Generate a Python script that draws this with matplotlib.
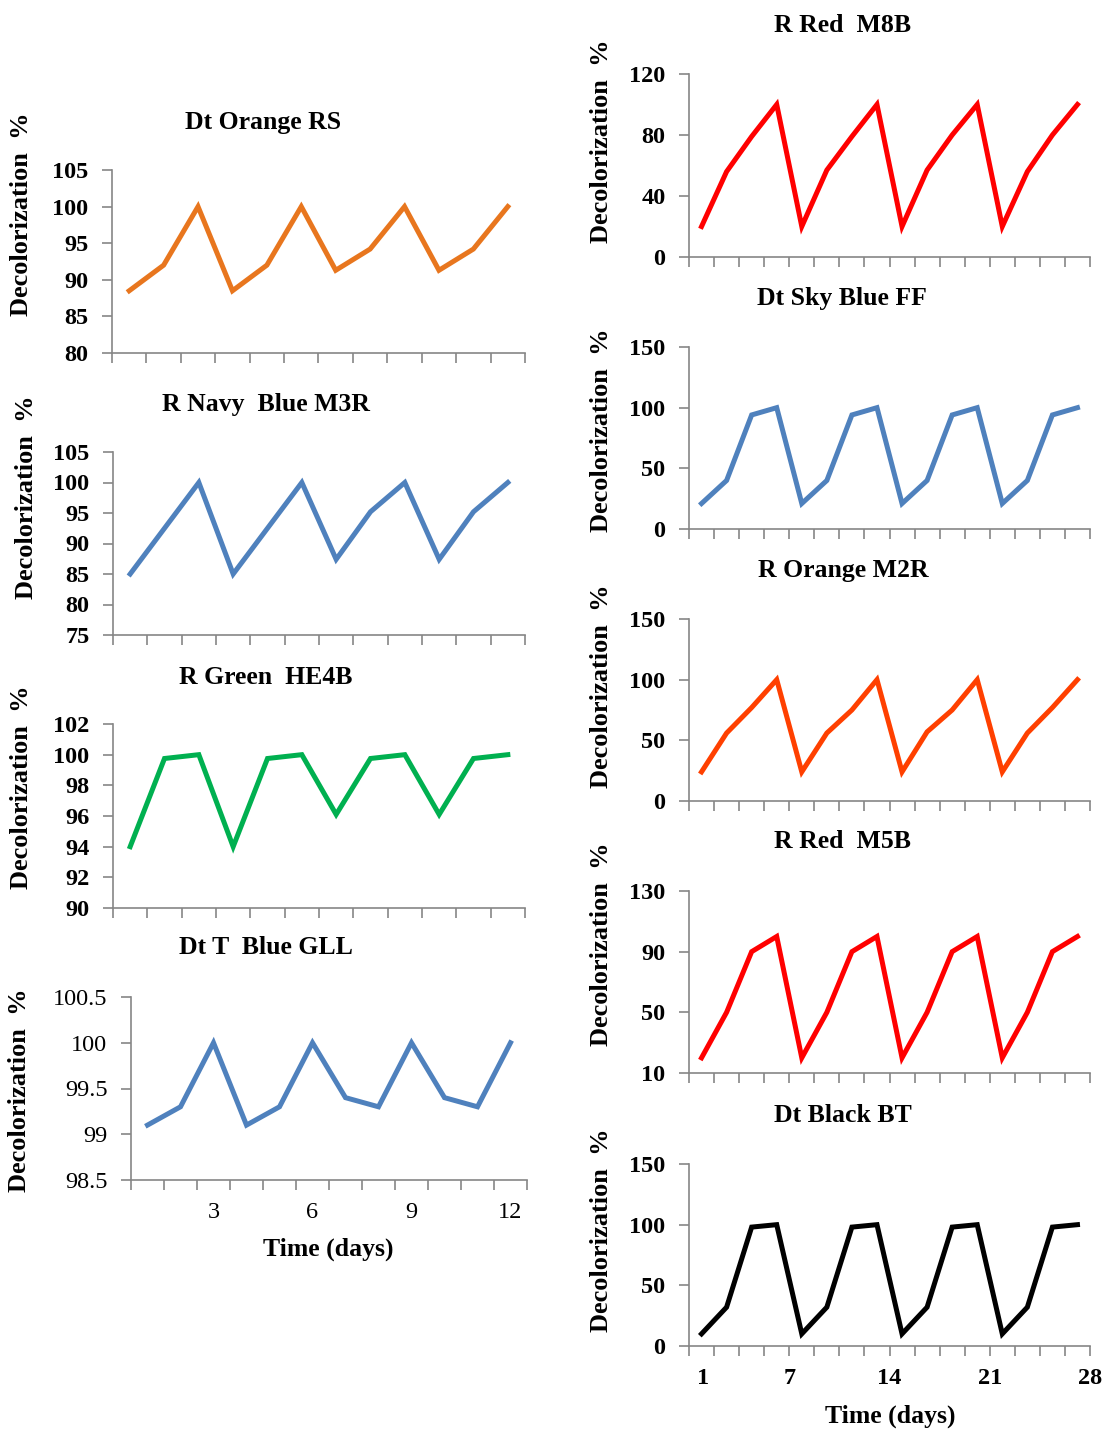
import matplotlib
matplotlib.use("Agg")
import matplotlib.pyplot as plt
import numpy as np

plt.rcParams['font.family'] = ['Liberation Serif', 'DejaVu Serif']

# ---- data: decolorization (%) over repeated batch cycles ----
orange_rs = [88.5, 92.0, 100, 88.5, 92.0, 100, 91.3, 94.2, 100, 91.3, 94.2, 100]
navy_m3r = [85.0, 92.5, 100, 85.0, 92.5, 100, 87.4, 95.2, 100, 87.4, 95.2, 100]
green_he4b = [94.0, 99.75, 100, 94.0, 99.75, 100, 96.1, 99.75, 100, 96.1, 99.75, 100]
tblue_gll = [99.1, 99.3, 100, 99.1, 99.3, 100, 99.4, 99.3, 100, 99.4, 99.3, 100]

red_m8b = [20, 56, 79, 100, 20, 57, 79, 100, 20, 57, 80, 100, 20, 56, 80, 100]
skyblue_ff = [21, 40, 94, 100, 21, 40, 94, 100, 21, 40, 94, 100, 21, 40, 94, 100]
orange_m2r = [24, 56, 77, 100, 24, 56, 75, 100, 24, 57, 75, 100, 24, 56, 77, 100]
red_m5b = [20, 50, 90, 100, 20, 50, 90, 100, 20, 50, 90, 100, 20, 50, 90, 100]
black_bt = [10, 32, 98, 100, 10, 32, 98, 100, 10, 32, 98, 100, 10, 32, 98, 100]

left_titles = ["Dt Orange RS", "R Navy  Blue M3R", "R Green  HE4B", "Dt T  Blue GLL"]
right_titles = ["R Red  M8B", "Dt Sky Blue FF", "R Orange M2R", "R Red  M5B", "Dt Black BT"]

left_ticks = [[80, 85, 90, 95, 100, 105],
              [75, 80, 85, 90, 95, 100, 105],
              [90, 92, 94, 96, 98, 100, 102],
              [98.5, 99, 99.5, 100, 100.5]]
left_ticklabels = [None, None, None, ["98.5", "99", "99.5", "100", "100.5"]]
right_ticks = [[0, 40, 80, 120],
               [0, 50, 100, 150],
               [0, 50, 100, 150],
               [10, 50, 90, 130],
               [0, 50, 100, 150]]

left_day_labels = ["3", "6", "9", "12"]
left_day_points = [3, 6, 9, 12]
right_days = [1, 7, 14, 21, 28]

# ---- layout (pixels) ----
W, H = 1110, 1431
fig = plt.figure(figsize=(W / 100, H / 100), dpi=100)
fig.patch.set_facecolor("white")

GREY = "#868686"
TICK_SIZE = 17.5
TITLE_SIZE = 18.5
YLAB_SIZE = 19
LW = 3.6


def px_axes(x0, x1, ytop, ybot):
    return fig.add_axes([x0 / W, 1 - ybot / H, (x1 - x0) / W, (ybot - ytop) / H])


def style(ax, ncat, ticks, ticklabels, bold_ticks=True):
    for s in ("top", "right"):
        ax.spines[s].set_visible(False)
    for s in ("left", "bottom"):
        ax.spines[s].set_color(GREY)
        ax.spines[s].set_linewidth(1.2)
    ax.set_xlim(0.5, ncat + 0.5)
    ax.set_xticks(np.arange(0.5, ncat + 1.0, 1.0))
    ax.set_xticklabels([])
    ax.xaxis.remove_overlapping_locs = False
    ax.set_ylim(ticks[0], ticks[-1])
    ax.set_yticks(ticks)
    if ticklabels is not None:
        ax.set_yticklabels(ticklabels)
    else:
        ax.set_yticklabels([f"{t:g}" for t in ticks])
    ax.tick_params(axis="both", direction="out", length=7, width=1.2, color=GREY)
    ax.tick_params(axis="y", pad=10, labelsize=TICK_SIZE)
    for lab in ax.get_yticklabels():
        lab.set_fontweight("bold" if bold_ticks else "normal")
    ax.patch.set_alpha(0)


left_series = [orange_rs, navy_m3r, green_he4b, tblue_gll]
left_colors = ["#E8761E", "#4F81BD", "#00B050", "#4F81BD"]
left_boxes = [(112, 525, 170, 353), (113, 525, 452, 635), (113, 525, 724, 908), (131, 527, 997, 1180)]
left_title_pos = [(263, 122), (266, 405), (266, 677), (266, 948)]
left_ylabel_pos = [(22, 214), (27, 497), (22, 787), (20, 1090)]

right_series = [red_m8b, skyblue_ff, orange_m2r, red_m5b, black_bt]
right_colors = ["#FF0000", "#4F81BD", "#FF4000", "#FF0000", "#000000"]
right_boxes = [(689, 1090, 74, 257), (689, 1090, 347, 529), (689, 1090, 619, 801),
               (689, 1090, 891, 1073), (689, 1090, 1164, 1346)]
right_title_pos = [(843, 25), (842, 298), (843, 570), (843, 842), (843, 1115)]
right_ylabel_pos = [(601, 141), (601, 430), (601, 686), (601, 944), (601, 1230)]


def ylabel(x, y):
    fig.text(x / W, 1 - y / H, "Decolorization  %", rotation=90, ha="center", va="center",
             fontsize=YLAB_SIZE, fontweight="bold")


for i in range(4):
    ax = px_axes(*left_boxes[i])
    vals = left_series[i]
    x = np.arange(1, len(vals) + 1)
    ax.plot(x, vals, color=left_colors[i], lw=LW, solid_joinstyle="miter")
    style(ax, len(vals), left_ticks[i], left_ticklabels[i], bold_ticks=(i != 3))
    tx, ty = left_title_pos[i]
    fig.text(tx / W, 1 - ty / H, left_titles[i], ha="center", va="center",
             fontsize=TITLE_SIZE, fontweight="bold")
    ylabel(*left_ylabel_pos[i])
    if i == 3:
        ax.set_xticks(left_day_points, minor=True)
        ax.set_xticklabels(left_day_labels, minor=True, fontsize=TICK_SIZE)
        ax.tick_params(axis="x", which="minor", length=0, pad=16)
        fig.text(328 / W, 1 - 1249 / H, "Time (days)", ha="center", va="center",
                 fontsize=TITLE_SIZE, fontweight="bold")

for i in range(5):
    ax = px_axes(*right_boxes[i])
    vals = right_series[i]
    x = np.arange(1, len(vals) + 1)
    ax.plot(x, vals, color=right_colors[i], lw=LW, solid_joinstyle="miter")
    style(ax, len(vals), right_ticks[i], None, bold_ticks=True)
    tx, ty = right_title_pos[i]
    fig.text(tx / W, 1 - ty / H, right_titles[i], ha="center", va="center",
             fontsize=TITLE_SIZE, fontweight="bold")
    ylabel(*right_ylabel_pos[i])
    if i == 4:
        ncat = len(vals)
        pos = [0.5 + d * ncat / 28 for d in right_days]
        ax.set_xticks(pos, minor=True)
        ax.set_xticklabels([str(d) for d in right_days], minor=True, fontsize=TICK_SIZE,
                           fontweight="bold")
        ax.tick_params(axis="x", which="minor", length=0, pad=16)
        fig.text(890 / W, 1 - 1416 / H, "Time (days)", ha="center", va="center",
                 fontsize=TITLE_SIZE, fontweight="bold")

fig.savefig("out.png", dpi=100, facecolor="white")
